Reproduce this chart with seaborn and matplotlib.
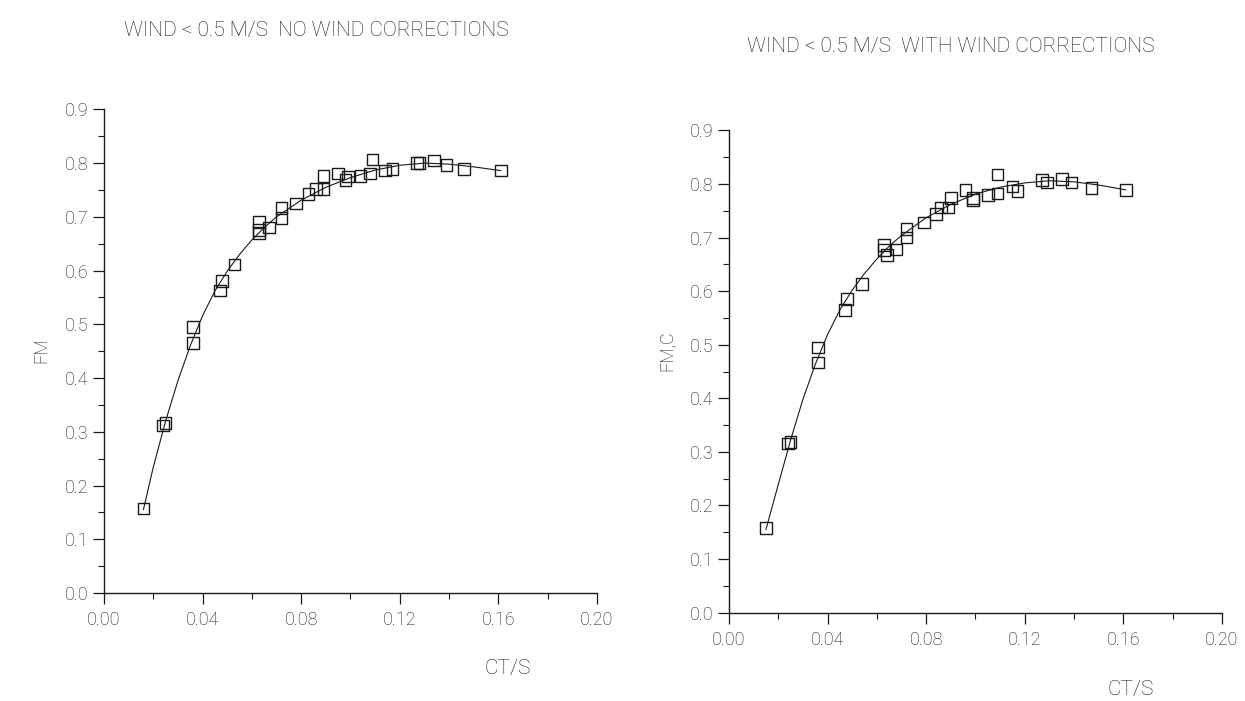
import numpy as np
import pandas as pd
import matplotlib
matplotlib.use("Agg")
import matplotlib.pyplot as plt
import seaborn as sns
from matplotlib.ticker import MultipleLocator, FormatStrFormatter

# left panel: no wind corrections
ct_left = [0.016, 0.024, 0.025, 0.036, 0.036, 0.047, 0.048, 0.053, 0.063, 0.063,
           0.063, 0.067, 0.072, 0.072, 0.078, 0.083, 0.086, 0.089, 0.089, 0.095,
           0.098, 0.099, 0.104, 0.108, 0.109, 0.114, 0.117, 0.127, 0.128, 0.134,
           0.139, 0.146, 0.161]
fm_left = [0.157, 0.312, 0.316, 0.465, 0.495, 0.563, 0.581, 0.611, 0.670, 0.676,
           0.690, 0.680, 0.698, 0.716, 0.725, 0.743, 0.752, 0.752, 0.776, 0.781,
           0.768, 0.775, 0.776, 0.781, 0.807, 0.786, 0.789, 0.800, 0.800, 0.805,
           0.797, 0.789, 0.786]
fit_ct_left = [0.016, 0.020, 0.025, 0.030, 0.035, 0.040, 0.045, 0.050, 0.055, 0.060,
               0.065, 0.070, 0.080, 0.090, 0.100, 0.110, 0.120, 0.130, 0.140, 0.150,
               0.161]
fit_fm_left = [0.155, 0.234, 0.320, 0.395, 0.460, 0.516, 0.562, 0.599, 0.630, 0.657,
               0.680, 0.700, 0.731, 0.755, 0.773, 0.787, 0.796, 0.800, 0.798, 0.793,
               0.786]

# right panel: with wind corrections
ct_right = [0.015, 0.024, 0.025, 0.036, 0.036, 0.047, 0.048, 0.054, 0.063, 0.063,
            0.064, 0.068, 0.072, 0.072, 0.079, 0.084, 0.086, 0.089, 0.090, 0.096,
            0.099, 0.099, 0.105, 0.109, 0.109, 0.115, 0.117, 0.127, 0.129, 0.135,
            0.139, 0.147, 0.161]
fm_right = [0.158, 0.316, 0.319, 0.467, 0.495, 0.565, 0.585, 0.613, 0.686, 0.677,
            0.667, 0.678, 0.700, 0.716, 0.728, 0.744, 0.756, 0.756, 0.774, 0.789,
            0.774, 0.770, 0.779, 0.782, 0.818, 0.795, 0.787, 0.807, 0.803, 0.809,
            0.803, 0.793, 0.789]
fit_ct_right = [0.015, 0.020, 0.025, 0.030, 0.035, 0.040, 0.045, 0.050, 0.055, 0.060,
                0.065, 0.070, 0.080, 0.090, 0.100, 0.110, 0.120, 0.130, 0.140, 0.150,
                0.161]
fit_fm_right = [0.155, 0.239, 0.322, 0.398, 0.463, 0.519, 0.565, 0.602, 0.633, 0.660,
                0.684, 0.704, 0.737, 0.762, 0.781, 0.794, 0.802, 0.806, 0.804, 0.798,
                0.789]

titles = ["WIND < 0.5 M/S  NO WIND CORRECTIONS", "WIND < 0.5 M/S  WITH WIND CORRECTIONS"]
ylabels = ["FM", "FM,C"]

sns.set_style("ticks")
plt.rcParams["font.family"] = ["Roboto", "DejaVu Sans"]
plt.rcParams["font.weight"] = "light"
ink = "#1a1a1a"

fig = plt.figure(figsize=(12.45, 7.01), dpi=100)
ax1 = fig.add_axes([0.0835, 0.154, 0.396, 0.690])
ax2 = fig.add_axes([0.5855, 0.126, 0.396, 0.688])

panels = [
    (ax1, ct_left, fm_left, fit_ct_left, fit_fm_left),
    (ax2, ct_right, fm_right, fit_ct_right, fit_fm_right),
]

for i, (ax, cx, cy, fx, fy) in enumerate(panels):
    pts = pd.DataFrame({"ct": cx, "fm": cy})
    fit = pd.DataFrame({"ct": fx, "fm": fy})
    sns.lineplot(data=fit, x="ct", y="fm", ax=ax, color=ink, linewidth=0.8, sort=True)
    sns.scatterplot(data=pts, x="ct", y="fm", ax=ax, marker="s", s=70,
                    facecolor="none", edgecolor=ink, linewidth=1.0)
    ax.set_xlim(0, 0.2)
    ax.set_ylim(0, 0.9)
    ax.xaxis.set_major_locator(MultipleLocator(0.04))
    ax.xaxis.set_minor_locator(MultipleLocator(0.02))
    ax.yaxis.set_major_locator(MultipleLocator(0.1))
    ax.yaxis.set_minor_locator(MultipleLocator(0.05))
    ax.xaxis.set_major_formatter(FormatStrFormatter("%.2f"))
    ax.yaxis.set_major_formatter(FormatStrFormatter("%.1f"))
    ax.tick_params(which="major", length=8, width=0.9, color=ink,
                   labelsize=13, labelcolor=ink)
    ax.tick_params(which="minor", length=4, width=0.8, color=ink)
    ax.tick_params(axis="x", which="major", pad=5)
    ax.tick_params(axis="y", which="major", pad=3)
    for side in ["top", "right"]:
        ax.spines[side].set_visible(False)
    for side in ["left", "bottom"]:
        ax.spines[side].set_color(ink)
        ax.spines[side].set_linewidth(1.0)
    ax.set_xlabel("")
    ax.set_ylabel("")

fig.text(0.254, 0.957, titles[0], ha="center", va="center", fontsize=15, color=ink)
fig.text(0.764, 0.933, titles[1], ha="center", va="center", fontsize=15, color=ink)
fig.text(0.033, 0.50, ylabels[0], rotation=90, ha="center", va="center", fontsize=13, color=ink)
fig.text(0.535, 0.50, ylabels[1], rotation=90, ha="center", va="center", fontsize=13, color=ink)
fig.text(0.408, 0.047, "CT/S", ha="center", va="center", fontsize=15, color=ink)
fig.text(0.908, 0.016, "CT/S", ha="center", va="center", fontsize=15, color=ink)

fig.savefig("out.png", dpi=100, facecolor="white")
